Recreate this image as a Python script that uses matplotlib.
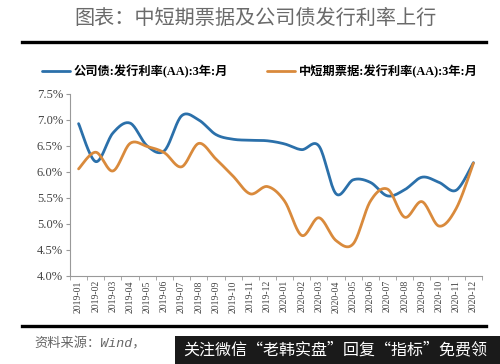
import matplotlib.pyplot as plt
import numpy as np
from matplotlib.lines import Line2D
from matplotlib.patches import Rectangle

plt.rcParams['font.family'] = ['Liberation Serif', 'Noto Sans CJK SC', 'DejaVu Sans']

# Data (monthly issuance rates, %)
months = ["2019-01", "2019-02", "2019-03", "2019-04", "2019-05", "2019-06",
          "2019-07", "2019-08", "2019-09", "2019-10", "2019-11", "2019-12",
          "2020-01", "2020-02", "2020-03", "2020-04", "2020-05", "2020-06",
          "2020-07", "2020-08", "2020-09", "2020-10", "2020-11", "2020-12"]
corp_bond = [6.93, 6.20, 6.75, 6.94, 6.50, 6.41, 7.08, 7.00, 6.72, 6.63, 6.61, 6.60,
             6.54, 6.43, 6.50, 5.58, 5.85, 5.80, 5.54, 5.66, 5.90, 5.80, 5.65, 6.18]
mtn = [6.06, 6.38, 6.02, 6.55, 6.49, 6.37, 6.10, 6.55, 6.25, 5.92, 5.58, 5.72,
       5.44, 4.78, 5.12, 4.68, 4.62, 5.44, 5.67, 5.13, 5.43, 4.96, 5.30, 6.17]
labels = ["公司债:发行利率(AA):3年:月", "中短期票据:发行利率(AA):3年:月"]
colors = ["#2b70aa", "#d98a3c"]


def smooth(y, n=20):
    # Catmull-Rom curve through the points, like Excel's smoothed line
    y = np.asarray(y, float)
    x = np.arange(len(y), dtype=float)
    px = np.concatenate([[x[0]], x, [x[-1]]])
    py = np.concatenate([[y[0]], y, [y[-1]]])
    xs, ys = [], []
    t = np.linspace(0, 1, n, endpoint=False)
    for i in range(1, len(px) - 2):
        for arr, out in ((px, xs), (py, ys)):
            p0, p1, p2, p3 = arr[i - 1], arr[i], arr[i + 1], arr[i + 2]
            out.append(0.5 * (2 * p1 + (-p0 + p2) * t
                              + (2 * p0 - 5 * p1 + 4 * p2 - p3) * t ** 2
                              + (-p0 + 3 * p1 - 3 * p2 + p3) * t ** 3))
    xs.append([x[-1]])
    ys.append([y[-1]])
    return np.concatenate(xs), np.concatenate(ys)


W, H = 500, 364
fig = plt.figure(figsize=(W / 100, H / 100), dpi=100)
ax = fig.add_axes([70 / W, 1 - 276 / H, 412 / W, 182 / H])

for vals, lab, c in zip([corp_bond, mtn], labels, colors):
    sx, sy = smooth(vals)
    ax.plot(sx, sy, color=c, lw=2.0, label=lab, solid_capstyle='round')

ax.set_xlim(-0.4, len(months) - 0.5)
ax.set_ylim(4.0, 7.5)
ax.set_yticks(np.arange(4.0, 7.51, 0.5))
ax.set_yticklabels([f"{v:.1f}%" for v in np.arange(4.0, 7.51, 0.5)],
                   fontsize=9, color="#444444")
ax.set_xticks(np.arange(len(months)))
ax.set_xticklabels(months, rotation=90, fontsize=7, color="#444444")
ax.set_xticks(np.arange(len(months) + 1) - 0.5, minor=True)
ax.tick_params(axis='x', which='major', length=0, pad=3)
ax.tick_params(axis='x', which='minor', length=3, color="#999999")
ax.tick_params(axis='y', length=3, color="#999999", pad=2)
for s in ["top", "right"]:
    ax.spines[s].set_visible(False)
for s in ["left", "bottom"]:
    ax.spines[s].set_color("#999999")
    ax.spines[s].set_linewidth(0.8)

fig.legend(loc="center", bbox_to_anchor=(0.52, 1 - 72 / H), ncol=2, frameon=False,
           prop={'family': ['Liberation Serif', 'Noto Sans CJK SC'], 'weight': 'bold', 'size': 8.8},
           handlelength=2.3, handletextpad=0.3, columnspacing=3.2)

fig.text(0.51, 1 - 18 / H, "图表：中短期票据及公司债发行利率上行", ha="center", va="center",
         fontsize=14.5, color="#6a6a6a", family=['Noto Sans CJK SC'], fontweight='light')
for yy in (41.5, 325.5):
    fig.add_artist(Line2D([22 / W, 486 / W], [1 - yy / H, 1 - yy / H], color="black", lw=2.4))

fig.text(34 / W, 1 - 344 / H, "资料来源：Wind，", ha="left", va="center",
         fontsize=9.5, color="#666666", style="italic",
         family=['Liberation Mono', 'Noto Sans CJK SC'])

fig.add_artist(Rectangle((175 / W, 0), 1 - 175 / W, 1 - 336 / H, transform=fig.transFigure,
                         facecolor="#1a1a1a", edgecolor="none"))
fig.text(183 / W, 1 - 350 / H, "关注微信“老韩实盘”回复“指标”免费领", ha="left", va="center",
         fontsize=11.5, color="white", family=['Noto Sans CJK SC'])

fig.savefig("out.png", dpi=100)
